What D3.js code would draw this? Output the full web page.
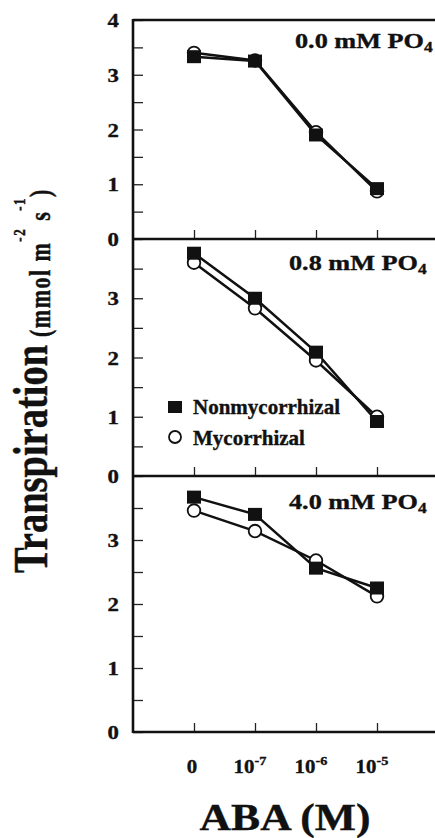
<!DOCTYPE html>
<html>
<head>
<meta charset="utf-8">
<script src="https://cdn.jsdelivr.net/npm/d3@7"></script>
<style>
  html, body { margin: 0; padding: 0; background: #fff; overflow: hidden; }
  svg { display: block; }
  text { font-family: "Liberation Serif", "DejaVu Serif", serif; font-weight: bold; fill: #111; stroke: #111; stroke-width: 0.35px; }
</style>
</head>
<body>
<div id="chart"></div>
<script>
// data
const abaLevels = ["0", "-7", "-6", "-5"];          // exponents, "0" = no ABA
const phosphate = ["0.0", "0.8", "4.0"];             // mM PO4 per panel
const nonmycorrhizal = [
  [3.33, 3.25, 1.90, 0.92],
  [3.76, 3.00, 2.09, 0.92],
  [3.67, 3.40, 2.56, 2.25]
];
const mycorrhizal = [
  [3.40, 3.26, 1.95, 0.87],
  [3.60, 2.83, 1.95, 1.00],
  [3.46, 3.14, 2.68, 2.12]
];
const yTicksTop = [0, 1, 2, 3, 4];
const yTicksLower = [0, 1, 2, 3];
const minorTicks = [0.5, 1.5, 2.5, 3.5];

const width = 435, height = 838;
const left = 133, right = 470;
// panel pixel bounds (the scan is not perfectly even)
const panels = [
  {top: 20, bottom: 239, ticks: yTicksTop},
  {top: 239, bottom: 476, ticks: yTicksLower},
  {top: 476, bottom: 732, ticks: yTicksLower}
];

const svg = d3.select("#chart").append("svg")
  .attr("width", width)
  .attr("height", height);

const x = d3.scalePoint()
  .domain(abaLevels)
  .range([194, 377]);

const line = d3.line()
  .x((d, i) => x(abaLevels[i]))
  .y(d => d);

panels.forEach((p, k) => {
  const y = d3.scaleLinear().domain([0, 4]).range([p.bottom, p.top]);
  const g = svg.append("g");

  // y axis ticks pointing inward
  g.append("g")
    .attr("transform", `translate(${left},0)`)
    .call(d3.axisRight(y).tickValues(p.ticks.concat(minorTicks)).tickSize(10).tickFormat(""))
    .call(a => a.select(".domain").remove())
    .call(a => a.selectAll("line").attr("stroke", "#222").attr("stroke-width", 1.3));

  // x ticks at panel bottom pointing up
  g.append("g")
    .attr("transform", `translate(0,${p.bottom})`)
    .call(d3.axisTop(x).tickSize(9).tickFormat(""))
    .call(a => a.select(".domain").remove())
    .call(a => a.selectAll("line").attr("stroke", "#222").attr("stroke-width", 1.3));

  // y tick labels
  g.selectAll(".ylab")
    .data(p.ticks)
    .join("text")
    .attr("transform", d => `translate(119,${y(d) + 7}) scale(1.2,1)`)
    .attr("text-anchor", "end")
    .style("font-size", "19px")
    .text(d => d);

  // frame lines
  g.append("line")
    .attr("x1", left).attr("x2", right)
    .attr("y1", p.bottom).attr("y2", p.bottom)
    .attr("stroke", "#111").attr("stroke-width", 2.6);
  if (k === 0) {
    g.append("line")
      .attr("x1", left).attr("x2", right)
      .attr("y1", p.top).attr("y2", p.top)
      .attr("stroke", "#111").attr("stroke-width", 2.4);
  }

  // series lines
  g.append("path")
    .datum(mycorrhizal[k].map(v => y(v)))
    .attr("d", line)
    .attr("fill", "none").attr("stroke", "#111").attr("stroke-width", 2.5);
  g.append("path")
    .datum(nonmycorrhizal[k].map(v => y(v)))
    .attr("d", line)
    .attr("fill", "none").attr("stroke", "#111").attr("stroke-width", 2.5);

  // markers
  g.selectAll(".myc")
    .data(mycorrhizal[k])
    .join("circle")
    .attr("cx", (d, i) => x(abaLevels[i]))
    .attr("cy", d => y(d))
    .attr("r", 6.3)
    .attr("fill", "#fff").attr("stroke", "#111").attr("stroke-width", 1.8);
  g.selectAll(".non")
    .data(nonmycorrhizal[k])
    .join("rect")
    .attr("x", (d, i) => x(abaLevels[i]) - 7)
    .attr("y", d => y(d) - 6.5)
    .attr("width", 14).attr("height", 13)
    .attr("fill", "#111");

  // panel title
  const t = g.append("text")
    .attr("transform", `translate(${k === 0 ? 295 : 289},${y(3.48)}) scale(1.25,1)`)
    .style("font-size", "21px");
  t.append("tspan").text(phosphate[k] + " mM PO");
  t.append("tspan").attr("dy", 4).style("font-size", "14px").text("4");
});

// left axis line spanning all panels
svg.append("line")
  .attr("x1", left).attr("x2", left)
  .attr("y1", 19).attr("y2", 733)
  .attr("stroke", "#111").attr("stroke-width", 2.6);

// x tick labels
const xl = svg.selectAll(".xlab")
  .data(abaLevels)
  .join("text")
  .attr("transform", d => `translate(${d === "0" ? x(d) - 2 : x(d) - 5},773) scale(1.1,1)`)
  .attr("text-anchor", "middle")
  .style("font-size", "19px");
xl.each(function(d) {
  const s = d3.select(this);
  if (d === "0") { s.text("0"); return; }
  s.append("tspan").text("10");
  s.append("tspan").attr("dy", -8).style("font-size", "13px").text(d);
});

// x axis title
svg.append("text")
  .attr("transform", "translate(285,830) scale(1.18,1)")
  .attr("text-anchor", "middle")
  .style("font-size", "37px")
  .text("ABA (M)");

// y axis title
svg.append("text")
  .attr("transform", "translate(47,573) scale(1.25,1) rotate(-90)")
  .style("font-size", "38.5px")
  .text("Transpiration");
const units = svg.append("text")
  .attr("transform", "translate(50,337) scale(1.3,1) rotate(-90)")
  .style("font-size", "22px")
  .style("letter-spacing", "1.5px");
units.append("tspan").text("(mmol m");
units.append("tspan").attr("dy", -19).style("font-size", "13px").text("-2");
units.append("tspan").attr("dy", 19).text(" s");
units.append("tspan").attr("dy", -19).style("font-size", "13px").text("-1");
units.append("tspan").attr("dy", 19).text(")");

// legend
const legendItems = ["Nonmycorrhizal", "Mycorrhizal"];
const lg = svg.append("g").attr("transform", "translate(175,407)");
lg.append("rect").attr("x", -7).attr("y", -6).attr("width", 14).attr("height", 12).attr("fill", "#111");
lg.append("circle").attr("cx", 0).attr("cy", 30).attr("r", 6)
  .attr("fill", "#fff").attr("stroke", "#111").attr("stroke-width", 1.8);
lg.selectAll(".ltext")
  .data(legendItems)
  .join("text")
  .attr("x", 18)
  .attr("y", (d, i) => 7 + i * 31)
  .style("font-size", "21px")
  .text(d => d);
</script>
</body>
</html>
